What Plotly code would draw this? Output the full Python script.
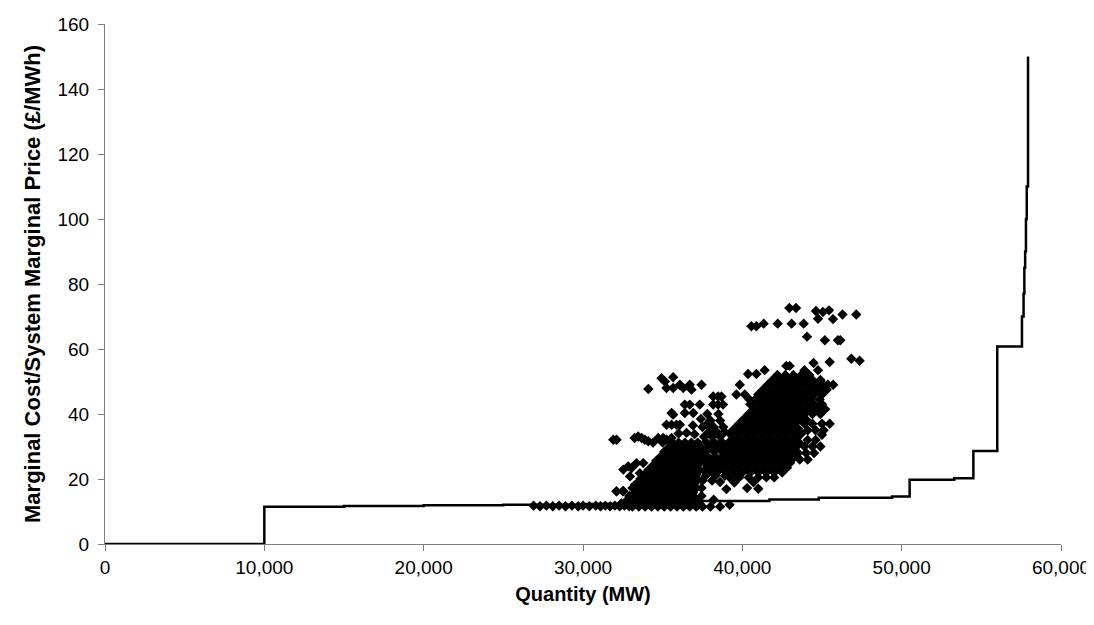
import plotly.graph_objects as go

# Marginal cost (supply) curve: block start quantity (MW) and price (GBP/MWh)
mc_quantity = [0, 10000, 15000, 20000, 25000, 30000, 34000, 37000, 41700, 44800,
               49400, 50500, 53300, 54500, 56000, 57550, 57650, 57700, 57750,
               57800, 57850, 57930]
mc_price = [0, 11.5, 11.7, 11.9, 12.1, 12.3, 12.7, 13.2, 13.7, 14.2,
            14.6, 19.8, 20.2, 28.6, 60.8, 70, 77, 85, 90,
            100, 110, 150]

# System marginal price observations, read off the picture as rows:
# (price GBP/MWh, [quantities MW observed at about that price])
smp_low_rows = [
    (11.8, [26900, 27700, 28500, 29300, 30000, 30800, 31400, 32000, 32600]),
    (11.6, [27300, 28100, 28900, 29700, 30400, 31100, 31700, 32300, 32900]),
    (11.5, [33100, 33500, 33900, 34300, 34700, 35100, 35500, 35900, 36300, 36700,
            37100, 37500, 38000, 38600]),
    (12.1, [37230, 39200]),
    (12.5, [32400, 32900, 33300, 33700, 34100, 34500, 34900, 35300, 35700, 36100,
            36500, 36900, 37300]),
    (13.6, [32800, 38200]),
    (14.8, [32900, 37440]),
    (16.2, [32100, 32500]),
    (17.2, [37440]),
]
smp_core_a_rows = [
    (13.0, [33200, 33600, 34000, 34400, 34800, 35200, 35600, 36000, 36400, 36800, 37200]),
    (14.4, [33000, 33400, 33800, 34200, 34600, 35000, 35400, 35800, 36200, 36600, 37000]),
    (15.8, [33300, 33700, 34100, 34500, 34900, 35300, 35700, 36100, 36500, 36900]),
    (17.2, [33100, 33500, 33900, 34300, 34700, 35100, 35500, 35900, 36300, 36700, 37100]),
    (18.6, [33400, 33800, 34200, 34600, 35000, 35400, 35800, 36200, 36600, 37000]),
    (20.0, [33600, 34000, 34400, 34800, 35200, 35600, 36000, 36400, 36800, 37200]),
    (21.4, [33900, 34300, 34700, 35100, 35500, 35900, 36300, 36700, 37100]),
    (22.8, [34100, 34500, 34900, 35300, 35700, 36100, 36500, 36900, 37300]),
    (24.2, [34400, 34800, 35200, 35600, 36000, 36400, 36800, 37200]),
    (25.6, [34600, 35000, 35400, 35800, 36200, 36600, 37000, 37400]),
    (27.0, [34900, 35300, 35700, 36100, 36500, 36900, 37300]),
    (28.4, [35100, 35500, 35900, 36300, 36700, 37100, 37500]),
    (29.8, [35400, 35800, 36200, 36600, 37000, 37400]),
    (31.2, [34400, 35000, 35600, 36000, 36400, 36800, 37200]),
]
smp_fringe_points = [
    (32530, 22.9), (32840, 23.9), (33050, 23.4), (33360, 24.9), (33780, 24.9), (33570, 21.8),
    (32950, 20.8), (33260, 18.2), (33680, 18.8), (33880, 19.3), (32110, 16.2), (32530, 16.3),
    (31900, 32.1), (32110, 32.1), (33240, 32.6), (33460, 33.1), (33680, 32.6), (33880, 32.1),
    (34100, 31.6), (34720, 32.6), (35030, 32.6), (35240, 32.1), (35560, 32.6),
    (36000, 34.0), (36500, 34.2), (37000, 33.8),
    (35240, 36.7), (35560, 36.7), (35870, 36.7), (36080, 36.7), (36900, 36.5), (37750, 36.7),
    (35560, 40.3), (35660, 39.8), (36390, 40.3), (36920, 40.3), (37400, 38.5),
    (36700, 42.9), (37330, 42.9), (38170, 42.9), (38480, 42.9), (38790, 42.9), (36390, 42.9),
    (38170, 45.4), (38480, 45.4), (38690, 45.4), (39630, 46.0), (40150, 46.0), (40460, 44.4),
    (34100, 47.7), (34930, 51.0), (35140, 50.0), (35660, 51.3), (35240, 48.0), (35660, 48.0),
    (36080, 49.0), (36290, 48.0), (36700, 49.0), (36810, 47.5), (37440, 49.0), (39840, 49.0),
    (39000, 16.9), (40300, 17.2), (41000, 17.0), (39500, 18.9), (40700, 19.0), (38600, 19.1),
]
smp_core_b_rows = [
    (19.5, [37500, 38100]),
    (21.0, [37700, 38300, 38900]),
    (22.5, [37600, 38000, 38500]),
    (24.0, [37800, 38300, 38800]),
    (25.5, [37600, 38100, 38600]),
    (27.0, [37800, 38300, 38800]),
    (28.5, [37700, 38200, 38700]),
    (30.0, [37900, 38400, 38900]),
    (31.5, [37700, 38200, 38700]),
    (33.0, [37600, 38100, 38600]),
    (34.5, [37900, 38400, 38900]),
    (36.0, [37500, 38200, 38800]),
    (38.0, [38000, 38600]),
    (40.0, [37800, 38500]),
]
smp_core_c_rows = [
    (20.5, [39200, 39800, 40400, 41000, 41500, 42000]),
    (22.0, [39000, 39500, 40000, 40500, 41000, 41500, 42000, 42500]),
    (23.5, [39300, 39800, 40300, 40800, 41300, 41800, 42300, 42800]),
    (25.0, [39000, 39500, 40000, 40500, 41000, 41500, 42000, 42500, 43000]),
    (26.5, [39200, 39700, 40200, 40700, 41200, 41700, 42200, 42700, 43200]),
    (28.0, [39000, 39500, 40000, 40500, 41000, 41500, 42000, 42500, 43000, 43500]),
    (29.5, [39300, 39800, 40300, 40800, 41300, 41800, 42300, 42800, 43300]),
    (31.0, [39100, 39600, 40100, 40600, 41100, 41600, 42100, 42600, 43100, 43600]),
    (32.5, [39400, 39900, 40400, 40900, 41400, 41900, 42400, 42900, 43400]),
    (34.0, [39200, 39700, 40200, 40700, 41200, 41700, 42200, 42700, 43200, 43700]),
    (35.5, [39500, 40000, 40500, 41000, 41500, 42000, 42500, 43000, 43500]),
    (37.0, [39800, 40300, 40800, 41300, 41800, 42300, 42800, 43300]),
    (38.5, [40100, 40600, 41100, 41600, 42100, 42600, 43100, 43600]),
]
smp_core_d_rows = [
    (40.0, [40400, 40900, 41400, 41900, 42400, 42900, 43400, 43900, 44400, 44900]),
    (41.5, [40700, 41200, 41700, 42200, 42700, 43200, 43700, 44200, 44700, 45200]),
    (43.0, [40500, 41000, 41500, 42000, 42500, 43000, 43500, 44000, 44500, 45000]),
    (44.5, [40800, 41300, 41800, 42300, 42800, 43300, 43800, 44300, 44850]),
    (46.0, [41000, 41500, 42000, 42500, 43000, 43500, 44000, 44500, 45000]),
    (47.5, [41300, 41800, 42300, 42800, 43300, 43800, 44300, 44800, 45300]),
    (49.0, [41600, 42100, 42600, 43100, 43600, 44100, 44600, 45100, 45370, 45700]),
    (50.5, [41900, 42400, 42900, 43400, 43900, 44400, 44900]),
    (52.0, [42200, 42700, 43200, 43700, 44200]),
    (52.3, [40360, 40880]),
    (53.5, [41400, 43900, 44750]),
    (54.8, [42760, 42970]),
    (55.7, [44470]),
    (56.0, [45480]),
]
smp_right_rows = [
    (26.0, [43600, 44100]),
    (28.0, [44000, 44500]),
    (30.0, [43900, 44400, 44900]),
    (32.0, [44100, 44600]),
    (33.6, [43600, 45000]),
    (35.0, [44100, 44600, 45100]),
    (37.0, [43900, 44400, 45000, 45480]),
    (38.2, [44020]),
]
smp_high_points = [
    (40570, 67.0), (40880, 67.0), (41340, 67.8), (42220, 67.8), (43090, 67.8), (43850, 67.8),
    (42950, 72.6), (43370, 72.6), (44620, 71.7), (45060, 71.4), (45440, 71.9), (44750, 69.3),
    (45690, 69.2), (46290, 70.6), (47150, 70.6), (44060, 63.8), (45180, 62.7), (46000, 62.7),
    (46150, 62.7), (46840, 57.0), (47360, 56.4),
]

smp_quantity, smp_price = [], []
for rows in (smp_low_rows, smp_core_a_rows, smp_core_b_rows, smp_core_c_rows,
             smp_core_d_rows, smp_right_rows):
    for price, quantities in rows:
        for q in quantities:
            smp_quantity.append(q)
            smp_price.append(price)
for q, p in smp_fringe_points + smp_high_points:
    smp_quantity.append(q)
    smp_price.append(p)

x_ticks = [0, 10000, 20000, 30000, 40000, 50000, 60000]
y_ticks = [0, 20, 40, 60, 80, 100, 120, 140, 160]

FONT = "Liberation Sans, Arial, sans-serif"

fig = go.Figure()
fig.add_trace(go.Scatter(
    x=smp_quantity, y=smp_price, mode="markers",
    marker=dict(symbol="diamond", size=8, color="black", line=dict(width=0)),
    showlegend=False, cliponaxis=False,
))
fig.add_trace(go.Scatter(
    x=mc_quantity, y=mc_price, mode="lines", line_shape="hv",
    line=dict(color="black", width=2.5), showlegend=False, cliponaxis=False,
))

fig.update_layout(
    width=1094, height=625,
    paper_bgcolor="white", plot_bgcolor="white",
    margin=dict(l=97, r=41, t=16, b=89),
    font=dict(family=FONT, size=19, color="black"),
)
fig.update_xaxes(
    range=[0, 60000], tickvals=x_ticks, tickformat=",", automargin=False,
    showgrid=False, zeroline=False, showline=True, linecolor="#808080", linewidth=1,
    ticks="outside", ticklen=6, tickcolor="#808080",
    tickfont=dict(family=FONT, size=19, color="black"),
    title=dict(text="<b>Quantity (MW)</b>", font=dict(family=FONT, size=20), standoff=10),
)
fig.update_yaxes(
    range=[0, 160], tickvals=y_ticks, automargin=False, ticklabelstandoff=5,
    showgrid=False, zeroline=False, showline=True, linecolor="#808080", linewidth=1,
    ticks="outside", ticklen=6, tickcolor="#808080",
    tickfont=dict(family=FONT, size=19, color="black"),
    title=dict(text="<b>Marginal Cost/System Marginal Price (£/MWh)</b>",
               font=dict(family=FONT, size=22), standoff=10),
)

fig.write_html("out.html")
